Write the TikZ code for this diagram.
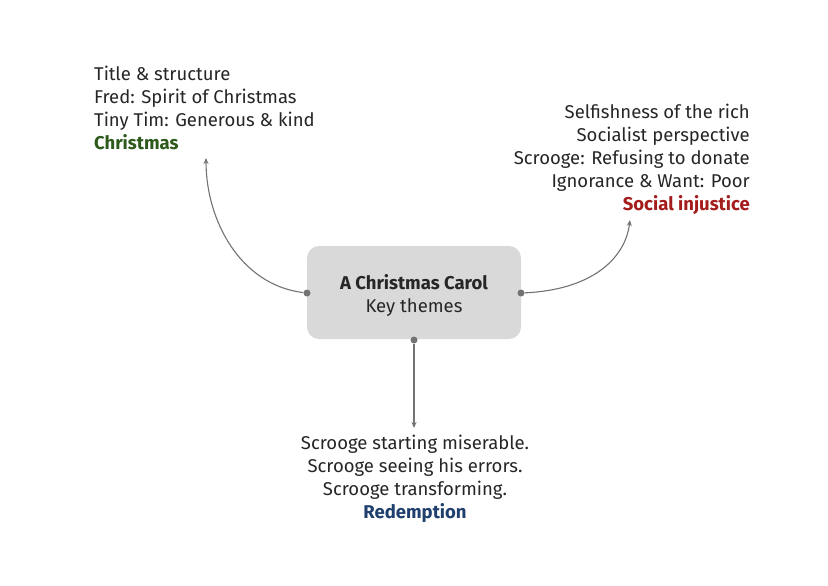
\documentclass[tikz,border=0pt]{standalone}
\usepackage{fontspec}
\usetikzlibrary{arrows.meta}
\setmainfont{Fira Sans}
\begin{document}
\begin{tikzpicture}[x=1pt,y=-1pt,
  txt/.style={font=\fontsize{18.5}{23}\selectfont,text=black!85,inner sep=0pt},
  conn/.style={draw=black!55,line width=1.1pt,-{Stealth[length=6pt,width=5pt]}},
  dot/.style={circle,fill=black!55,inner sep=0pt,minimum size=7pt}]
\useasboundingbox (0,0) rectangle (828,586);
\fill[white] (0,0) rectangle (828,586);
\node[draw=none,fill=black!15,rounded corners=12pt,minimum width=214pt,minimum height=93pt] (box) at (414,292.5) {};
\node[txt,align=center] (title) at (414,295) {\textbf{A Christmas Carol}\\Key themes};
\node[dot] (dl) at (307,293) {};
\node[dot] (dr) at (521,293) {};
\node[dot] (db) at (414,340) {};
\coordinate (el) at (206,158);
\coordinate (er) at (630,220);
\coordinate (eb) at (414,428);
\draw[conn] (dl) .. controls (240,285) and (206,220) .. (el);
\draw[conn] (dr) .. controls (590,290) and (625,260) .. (er);
\draw[conn] (db) -- (eb);
\node[txt,align=left,anchor=north west] (lt) at (94,66) {Title \& structure\\Fred: Spirit of Christmas\\Tiny Tim: Generous \& kind\\\textbf{\color[HTML]{2D5A1B}Christmas}};
\node[txt,align=right,anchor=north east] (rt) at (750,104) {Selfishness of the rich\\Socialist perspective\\Scrooge: Refusing to donate\\Ignorance \& Want: Poor\\\textbf{\color[HTML]{A51C1C}Social injustice}};
\node[txt,align=center,anchor=north] (bt) at (415,435) {Scrooge starting miserable.\\Scrooge seeing his errors.\\Scrooge transforming.\\\textbf{\color[HTML]{1F3F6E}Redemption}};
\end{tikzpicture}
\end{document}
